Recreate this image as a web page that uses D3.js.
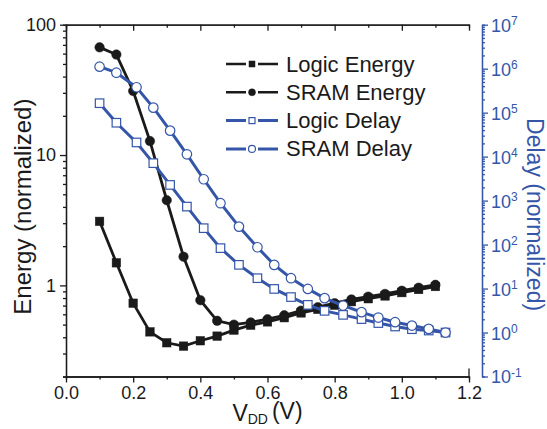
<!DOCTYPE html>
<html lang="en">
<head>
<meta charset="utf-8">
<title>Energy and delay vs VDD</title>
<script src="https://d3js.org/d3.v7.min.js"></script>
<style>
  body { margin: 0; background: #fff; }
  svg text { font-family: "Liberation Sans", Arial, sans-serif; }
</style>
</head>
<body>
<div id="chart"></div>
<script>
// x values (V) for the energy curves and for the delay curves
const vddEnergy = [0.10, 0.15, 0.20, 0.25, 0.30, 0.35, 0.40, 0.45, 0.50, 0.55, 0.60,
                   0.65, 0.70, 0.75, 0.80, 0.85, 0.90, 0.95, 1.00, 1.05, 1.10];
const vddDelay = [0.10, 0.15, 0.21, 0.26, 0.31, 0.36, 0.41, 0.46, 0.515, 0.57, 0.62,
                  0.67, 0.72, 0.77, 0.825, 0.88, 0.93, 0.98, 1.03, 1.08, 1.13];

// left axis, energy (normalized)
const logicEnergy = [3.1, 1.49, 0.73, 0.44, 0.363, 0.342, 0.376, 0.408, 0.454, 0.495, 0.525,
                     0.565, 0.615, 0.655, 0.705, 0.75, 0.79, 0.83, 0.88, 0.93, 0.98];
const sramEnergy = [67, 59, 31, 12.8, 4.5, 1.66, 0.77, 0.535, 0.50, 0.52, 0.55,
                    0.59, 0.64, 0.68, 0.73, 0.78, 0.82, 0.86, 0.91, 0.96, 1.01];

// right axis, delay (normalized)
const logicDelay = [1.64e5, 5.9e4, 2.1e4, 7.1e3, 2.27e3, 731, 236, 83, 34.6, 17.2, 9.8,
                    6.4, 4.26, 3.11, 2.52, 2.02, 1.64, 1.37, 1.19, 1.11, 1.0];
const sramDelay = [1.11e6, 8.1e5, 3.78e5, 1.3e5, 3.9e4, 1.13e4, 3.06e3, 873, 256, 87, 34.6,
                   17.2, 9.8, 6.05, 4.11, 2.91, 2.19, 1.72, 1.44, 1.21, 1.0];

const xTicks = [0, 0.2, 0.4, 0.6, 0.8, 1.0, 1.2];
const xMinor = [0.1, 0.3, 0.5, 0.7, 0.9, 1.1];
const energyTicks = [1, 10, 100];
const delayExps = [-1, 0, 1, 2, 3, 4, 5, 6, 7];

const legendNames = ["Logic Energy", "SRAM Energy", "Logic Delay", "SRAM Delay"];

const black = "#1a1a1a";
const blue = "#3556a8";

const W = 547, H = 429;
const margin = {top: 24.7, left: 66, right: 78, bottom: 52.5};
const width = W - margin.left - margin.right,
      height = H - margin.top - margin.bottom;

const svg = d3.select("#chart").append("svg")
    .attr("width", W).attr("height", H);
const g = svg.append("g")
    .attr("transform", "translate(" + margin.left + "," + margin.top + ")");

const x = d3.scaleLinear().domain([0, 1.2]).range([0, width]);
const yE = d3.scaleLog().domain([0.2, 100]).range([height, 0]);
const yD = d3.scaleLog().domain([0.1, 1e7]).range([height, 0]);

// minor log ticks (2..9 per decade)
function minorLog(lo, hi) {
    const out = [];
    for (let e = Math.floor(Math.log10(lo)); e < Math.ceil(Math.log10(hi)); e++) {
        for (let m = 2; m <= 9; m++) {
            const v = m * Math.pow(10, e);
            if (v >= lo - 1e-9 && v <= hi + 1e-9) out.push(v);
        }
    }
    return out;
}

function styleAxis(sel, col) {
    sel.selectAll("path").attr("stroke", col).attr("stroke-width", 1.3);
    sel.selectAll("line").attr("stroke", col).attr("stroke-width", 1.3);
    sel.selectAll("text").attr("fill", col).style("font-size", "18px");
}

// bottom axis
g.append("g").attr("transform", "translate(0," + height + ")")
    .call(d3.axisBottom(x).tickValues(xMinor).tickSize(3).tickFormat(""))
    .call(s => styleAxis(s, black));
g.append("g").attr("transform", "translate(0," + height + ")")
    .call(d3.axisBottom(x).tickValues(xTicks).tickSizeInner(6).tickSizeOuter(0)
        .tickPadding(4).tickFormat(d3.format(".1f")))
    .call(s => styleAxis(s, black));
// stub at right end of bottom axis
g.append("line").attr("x1", width).attr("x2", width)
    .attr("y1", height).attr("y2", height - 8)
    .attr("stroke", black).attr("stroke-width", 1.3);

// top axis (inward ticks, no labels)
g.append("g")
    .call(d3.axisTop(x).tickValues(xMinor).tickSize(-3).tickFormat(""))
    .call(s => styleAxis(s, black));
g.append("g")
    .call(d3.axisTop(x).tickValues(xTicks).tickSizeInner(-6).tickSizeOuter(0).tickFormat(""))
    .call(s => styleAxis(s, black));

// left axis
g.append("g")
    .call(d3.axisLeft(yE).tickValues(minorLog(0.2, 100)).tickSize(3).tickFormat(""))
    .call(s => styleAxis(s, black));
g.append("g")
    .call(d3.axisLeft(yE).tickValues(energyTicks).tickSizeInner(6).tickSizeOuter(0)
        .tickPadding(4).tickFormat(d3.format("d")))
    .call(s => styleAxis(s, black));

// right (delay) axis, offset from the frame
const rightX = width + 13;
g.append("g").attr("transform", "translate(" + rightX + ",0)")
    .call(d3.axisRight(yD).tickValues(minorLog(0.1, 1e7)).tickSize(3).tickFormat(""))
    .call(s => styleAxis(s, blue));
const rAx = g.append("g").attr("transform", "translate(" + rightX + ",0)")
    .call(d3.axisRight(yD).tickValues(delayExps.map(e => Math.pow(10, e)))
        .tickSizeInner(6).tickSizeOuter(0).tickPadding(4).tickFormat(""))
    .call(s => styleAxis(s, blue));
rAx.selectAll(".tick").each(function(d) {
    const t = d3.select(this).append("text")
        .attr("x", 9).attr("dy", "0.36em")
        .attr("fill", blue).style("font-size", "18px").attr("text-anchor", "start");
    t.append("tspan").text("10");
    t.append("tspan").attr("dy", "-0.55em").style("font-size", "12px")
        .text(Math.round(Math.log10(d)));
});

// axis titles
svg.append("text")
    .attr("transform", "translate(31," + (margin.top + height / 2 + 6) + ") rotate(-90)")
    .attr("text-anchor", "middle").attr("fill", black)
    .style("font-size", "24px").text("Energy (normalized)");
svg.append("text")
    .attr("transform", "translate(527," + (margin.top + height / 2 + 14) + ") rotate(90)")
    .attr("text-anchor", "middle").attr("fill", blue)
    .style("font-size", "23px").text("Delay (normalized)");
const xl = svg.append("text")
    .attr("x", margin.left + x(0.6)).attr("y", 421)
    .attr("text-anchor", "middle").attr("fill", black).style("font-size", "23px");
xl.append("tspan").text("V");
xl.append("tspan").attr("dy", "0.2em").style("font-size", "14px").text("DD");
xl.append("tspan").attr("dy", "-0.2em").attr("dx", "4").text("(V)");

// series
const series = [
    {name: legendNames[0], xs: vddEnergy, ys: logicEnergy, scale: yE, color: black, shape: "square", fill: true},
    {name: legendNames[1], xs: vddEnergy, ys: sramEnergy, scale: yE, color: black, shape: "circle", fill: true},
    {name: legendNames[2], xs: vddDelay, ys: logicDelay, scale: yD, color: blue, shape: "square", fill: false},
    {name: legendNames[3], xs: vddDelay, ys: sramDelay, scale: yD, color: blue, shape: "circle", fill: false}
];

function drawMarker(sel, s, cx, cy, size) {
    if (s.shape === "square") {
        sel.append("rect")
            .attr("x", cx - size / 2).attr("y", cy - size / 2)
            .attr("width", size).attr("height", size)
            .attr("fill", s.fill ? s.color : "#fff")
            .attr("stroke", s.color).attr("stroke-width", s.fill ? 0.5 : 1.2);
    } else {
        sel.append("circle")
            .attr("cx", cx).attr("cy", cy).attr("r", size / 2 + 0.5)
            .attr("fill", s.fill ? s.color : "#fff")
            .attr("stroke", s.color).attr("stroke-width", s.fill ? 0.5 : 1.2);
    }
}

series.forEach(s => {
    const pts = s.xs.map((v, i) => [x(v), s.scale(s.ys[i])]);
    g.append("path")
        .attr("d", d3.line()(pts))
        .attr("fill", "none").attr("stroke", s.color)
        .attr("stroke-width", s.fill ? 2.8 : 3);
    const mg = g.append("g");
    pts.forEach(p => drawMarker(mg, s, p[0], p[1], 8.5));
});

// legend
const leg = svg.append("g");
series.forEach((s, i) => {
    const cy = 64 + i * 28.3;
    leg.append("line").attr("x1", 226).attr("x2", 278)
        .attr("y1", cy).attr("y2", cy)
        .attr("stroke", s.color).attr("stroke-width", s.fill ? 2.6 : 3);
    const rg = leg.append("g");
    rg.append("rect").attr("x", 246).attr("y", cy - 5).attr("width", 12).attr("height", 10)
        .attr("fill", "#fff");
    drawMarker(rg, s, 252, cy, 6);
    leg.append("text").attr("x", 286).attr("y", cy + 7.5)
        .attr("fill", black).style("font-size", "22px").text(s.name);
});
</script>
</body>
</html>
